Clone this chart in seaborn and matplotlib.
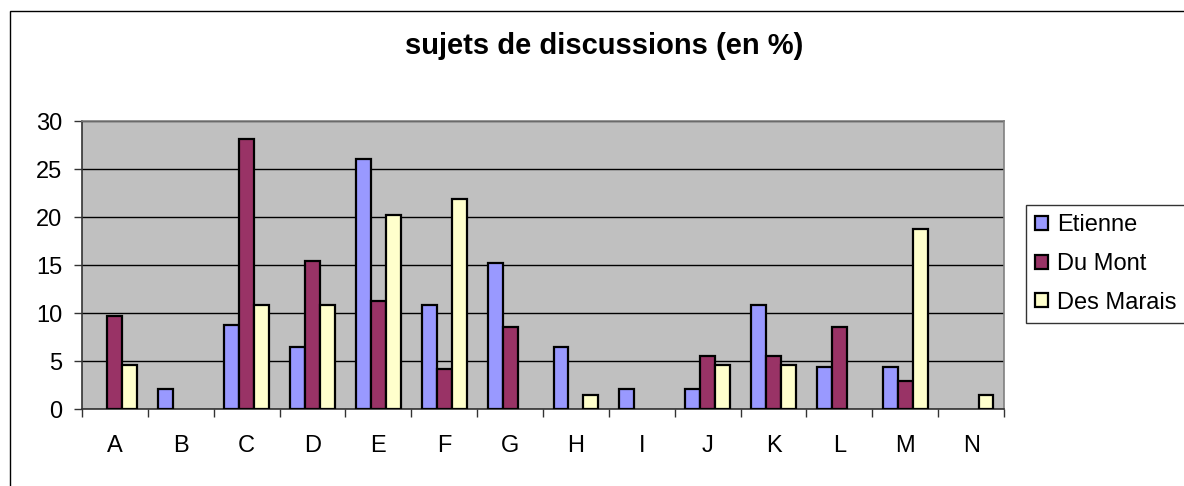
import matplotlib
matplotlib.use('Agg')
import matplotlib.pyplot as plt
from matplotlib.patches import Rectangle, Patch
import pandas as pd
import seaborn as sns

# sujets de discussions (en %) par groupe
categories = ['A', 'B', 'C', 'D', 'E', 'F', 'G', 'H', 'I', 'J', 'K', 'L', 'M', 'N']
etienne = [0, 2.05, 8.7, 6.42, 26.04, 10.83, 15.17, 6.42, 2.05, 2.05, 10.83, 4.34, 4.34, 0]
du_mont = [9.72, 0, 28.1, 15.38, 11.2, 4.17, 8.5, 0, 0, 5.56, 5.56, 8.5, 2.88, 0]
des_marais = [4.55, 0, 10.83, 10.83, 20.17, 21.84, 0, 1.42, 0, 4.55, 4.55, 0, 18.75, 1.42]
series = ['Etienne', 'Du Mont', 'Des Marais']
colors = ['#9999FF', '#993366', '#FFFFCC']

df = pd.DataFrame({'sujet': categories, 'Etienne': etienne,
                   'Du Mont': du_mont, 'Des Marais': des_marais})
long_df = df.melt(id_vars='sujet', var_name='groupe', value_name='pct')

sns.set_style('white')
plt.rcParams['font.family'] = ['Liberation Sans', 'DejaVu Sans']
plt.rcParams['text.color'] = 'black'
plt.rcParams['xtick.color'] = 'black'
plt.rcParams['ytick.color'] = 'black'

fig = plt.figure(figsize=(11.84, 4.86), dpi=100)
ax = fig.add_axes([82 / 1184, 1 - 409 / 486, (1004 - 82) / 1184, (409 - 121) / 486])

sns.barplot(data=long_df, x='sujet', y='pct', hue='groupe', hue_order=series,
            palette=colors, saturation=1, width=0.68, edgecolor='black', linewidth=1.6,
            errorbar=None, ax=ax, zorder=3, legend=False)

# empty bars should not leave an outline on the baseline
for bar in ax.patches:
    if bar.get_height() == 0:
        bar.set_linewidth(0)

ax.set_facecolor('#C0C0C0')
ax.set_xlim(-0.5, len(categories) - 0.5)
ax.set_ylim(0, 30)
ax.set_yticks(range(0, 31, 5))
ax.yaxis.grid(True, color='black', linewidth=1, zorder=1)
ax.set_axisbelow(True)
ax.set_xlabel('')
ax.set_ylabel('')

# ticks between categories like the spreadsheet chart
ax.set_xticks([i - 0.5 for i in range(len(categories) + 1)], minor=True)
ax.tick_params(axis='x', which='major', length=0, pad=19, labelsize=17)
ax.tick_params(axis='x', which='minor', length=6, width=1, color='#333333', direction='out', bottom=True)
ax.tick_params(axis='y', length=6, width=1, color='#333333', direction='out', left=True, pad=8, labelsize=17)

for side in ['left', 'bottom']:
    ax.spines[side].set_color('#333333')
    ax.spines[side].set_linewidth(1.2)
for side in ['top', 'right']:
    ax.spines[side].set_color('#808080')
    ax.spines[side].set_linewidth(1.2)

fig.text(604 / 1184, 1 - 46 / 486, 'sujets de discussions (en %)', ha='center', va='center',
         fontsize=21, fontweight='bold')

handles = [Patch(facecolor=c, edgecolor='black', linewidth=1.6) for c in colors]
leg = fig.legend(handles, series, loc='upper left', bbox_to_anchor=(1026 / 1184, 1 - 205 / 486),
                 fontsize=17, frameon=True, fancybox=False, edgecolor='black',
                 handlelength=0.55, handleheight=0.55, handletextpad=0.35,
                 labelspacing=0.7, borderpad=0.4, borderaxespad=0)
leg.get_frame().set_linewidth(1)

# outer chart border
fig.patches.append(Rectangle((10 / 1184, -0.1), 1.2, 1 - 11 / 486 + 0.1,
                             transform=fig.transFigure, fill=False,
                             edgecolor='black', linewidth=1))

fig.savefig('out.png', dpi=100)
